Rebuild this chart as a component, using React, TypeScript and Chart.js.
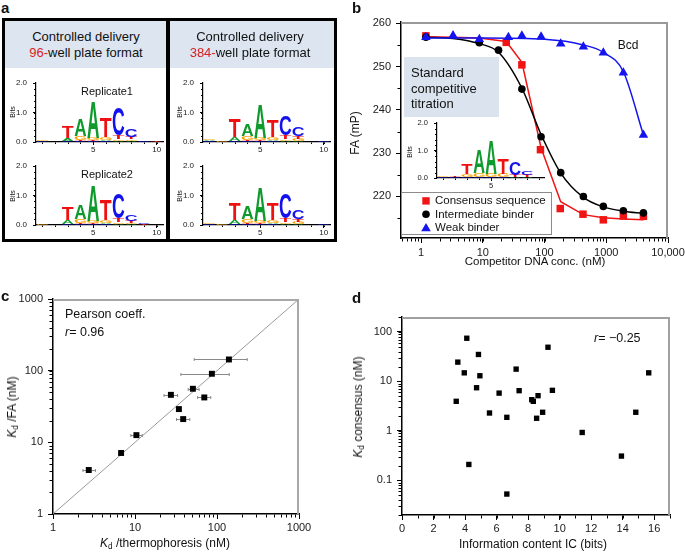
import React, { useEffect, useRef } from 'react';
import { Chart, registerables } from 'chart.js';
Chart.register(...registerables);

const FONT = '"Liberation Sans", Arial, Helvetica, sans-serif';
const TICK_COLOR = '#1a1a1a';
const RED = '#f01414';
const BLUE = '#1414f0';

// ---------------- Panel a : sequence logos (letter, bits) bottom -> top, positions 1..n
type Stack = [string, number][];
const logo96Rep1: Stack[] = [
  [['C', 0.02], ['G', 0.05]],
  [],
  [['C', 0.05], ['A', 0.1], ['T', 0.4]],
  [['C', 0.04], ['T', 0.04], ['G', 0.12], ['A', 0.55]],
  [['C', 0.03], ['T', 0.04], ['G', 0.08], ['A', 1.22]],
  [['C', 0.03], ['A', 0.05], ['G', 0.1], ['T', 0.66]],
  [['A', 0.04], ['G', 0.06], ['T', 0.12], ['C', 0.92]],
  [['A', 0.03], ['G', 0.06], ['T', 0.08], ['C', 0.25]],
  [['C', 0.03]],
  [['T', 0.02]],
];
const logo96Rep2: Stack[] = [
  [['G', 0.05]],
  [],
  [['C', 0.05], ['A', 0.12], ['T', 0.43]],
  [['C', 0.04], ['T', 0.04], ['G', 0.12], ['A', 0.5]],
  [['C', 0.03], ['T', 0.04], ['G', 0.08], ['A', 1.2]],
  [['C', 0.03], ['A', 0.05], ['G', 0.1], ['T', 0.7]],
  [['A', 0.04], ['G', 0.06], ['T', 0.12], ['C', 0.85]],
  [['A', 0.03], ['G', 0.04], ['T', 0.07], ['C', 0.2]],
  [['T', 0.02], ['C', 0.06]],
  [],
];
const logo384Rep1: Stack[] = [
  [['C', 0.03], ['A', 0.03], ['G', 0.06]],
  [['G', 0.02]],
  [['C', 0.04], ['A', 0.12], ['T', 0.6]],
  [['C', 0.04], ['T', 0.04], ['G', 0.12], ['A', 0.39]],
  [['C', 0.03], ['T', 0.04], ['G', 0.08], ['A', 1.13]],
  [['C', 0.03], ['A', 0.05], ['G', 0.1], ['T', 0.58]],
  [['A', 0.04], ['G', 0.06], ['T', 0.12], ['C', 0.68]],
  [['A', 0.03], ['G', 0.07], ['T', 0.1], ['C', 0.3]],
  [],
  [['C', 0.03]],
];
const logo384Rep2: Stack[] = [
  [['C', 0.02], ['G', 0.04]],
  [['G', 0.02]],
  [['C', 0.04], ['A', 0.12], ['T', 0.57]],
  [['C', 0.04], ['T', 0.04], ['G', 0.12], ['A', 0.42]],
  [['C', 0.03], ['T', 0.04], ['G', 0.08], ['A', 1.16]],
  [['C', 0.03], ['A', 0.05], ['G', 0.1], ['T', 0.57]],
  [['A', 0.04], ['G', 0.06], ['T', 0.12], ['C', 0.85]],
  [['A', 0.03], ['G', 0.07], ['T', 0.1], ['C', 0.33]],
  [],
  [['C', 0.02]],
];
const logoInset: Stack[] = [
  [['C', 0.02], ['G', 0.02]],
  [['C', 0.02], ['T', 0.03]],
  [['C', 0.03], ['G', 0.1], ['T', 0.36]],
  [['C', 0.03], ['G', 0.16], ['A', 0.85]],
  [['C', 0.03], ['G', 0.12], ['A', 1.22]],
  [['C', 0.03], ['G', 0.12], ['T', 0.58]],
  [['A', 0.03], ['T', 0.08], ['C', 0.48]],
  [['A', 0.02], ['T', 0.07], ['C', 0.14]],
  [],
];
const logoXTicks = [5, 10];
const logoInsetXTicks = [5];
const logoYTicks = [0, 1, 2];
const LETTER_COLORS: Record<string, string> = { A: '#0e9a2c', C: '#1212ee', G: '#f5a300', T: '#ee1111' };

// ---------------- Panel b : competitive titration
const bXTicks = [1, 10, 100, 1000, 10000];
const bXLabels = ['1', '10', '100', '1000', '10,000'];
const bYTicks = [220, 230, 240, 250, 260];

const consensusConc = [1.2, 24, 43, 86, 180, 420, 897, 1892, 4000];
const consensusFA = [257.1, 255.6, 250.4, 230.8, 217.2, 215.9, 214.6, 215.5, 215.4];
const consensusFitConc = [1.2, 3.3, 8.8, 24, 43, 88, 183, 426, 897, 1892, 4000];
const consensusFitFA = [256.9, 256.8, 256.6, 255.8, 251.0, 231.2, 218.8, 215.8, 215.1, 214.8, 214.6];

const intermediateConc = [1.2, 8.8, 18, 43, 88, 183, 426, 897, 1892, 4000];
const intermediateFA = [256.8, 255.5, 253.8, 244.8, 233.8, 225.5, 220.0, 217.7, 216.7, 216.2];
const intermediateFitConc = [1.2, 3.3, 8.8, 18, 43, 88, 183, 426, 897, 1892, 4000];
const intermediateFitFA = [256.8, 256.5, 255.3, 253.3, 245.0, 234.3, 225.4, 219.8, 217.6, 216.6, 216.1];

const weakConc = [1.2, 3.3, 8.8, 26, 43, 88, 183, 426, 897, 1892, 4000];
const weakFA = [256.8, 257.2, 256.3, 256.8, 257.1, 256.9, 255.3, 254.6, 253.2, 248.6, 234.2];
const weakFitConc = [1.2, 10, 100, 426, 897, 1892, 4000];
const weakFitFA = [256.6, 256.6, 256.3, 255.0, 253.3, 248.8, 234.2];

// ---------------- Panel c : Kd FA vs thermophoresis
const cTicks = [1, 10, 100, 1000];
const thermoKd = [2.73, 6.77, 10.4, 27.4, 34.3, 38.7, 50.8, 70, 86.6, 139.7];
const faKd = [4.11, 7.1, 12.6, 46, 29.1, 21.1, 55.9, 42.3, 90.5, 143.3];
const thermoLo = [2.32, 6.4, 8.9, 22.6, 34.3, 32.1, 44.5, 58, 36.3, 52.7];
const thermoHi = [3.29, 7.2, 12.3, 33.0, 34.3, 46.6, 60.6, 84, 141, 233.7];

// ---------------- Panel d : Kd consensus vs information content
const dXTicks = [0, 2, 4, 6, 8, 10, 12, 14, 16];
const dYTicks = [0.1, 1, 10, 100];
const icBits = [3.44, 3.54, 3.95, 4.11, 4.24, 4.73, 4.85, 4.94, 5.55, 6.16, 6.65, 6.65, 7.24, 7.43, 8.23, 8.33, 8.54, 8.63, 8.92, 9.26, 9.54, 11.43, 13.92, 14.83, 15.65];
const kdConsensus = [3.96, 24.5, 14.9, 74.5, 0.21, 7.45, 35, 13, 2.3, 5.8, 1.88, 0.053, 17.7, 6.5, 4.27, 3.96, 1.8, 5.15, 2.38, 49, 6.6, 0.93, 0.31, 2.38, 14.9];

// ---------------- helpers
type Box = { x: number; y: number; w: number; h: number };
type Area = { l: number; t: number; r: number; b: number };

function logMinor(lo: number, hi: number): number[] {
  const out: number[] = [];
  for (let e = Math.floor(Math.log10(lo)); e <= Math.ceil(Math.log10(hi)); e++) {
    for (let m = 1; m <= 9; m++) {
      const v = m * Math.pow(10, e);
      if (v >= lo * 0.999 && v <= hi * 1.001) out.push(v);
    }
  }
  return out;
}
function linMinor(lo: number, hi: number, step: number): number[] {
  const out: number[] = [];
  const n = Math.round((hi - lo) / step);
  for (let i = 0; i <= n; i++) out.push(+(lo + i * step).toFixed(6));
  return out;
}

function axisOpts(type: string, min: number, max: number, ticks: number[], labels: string[], fit: (s: any) => void, padding: number, size: number, tickLength: number, borderWidth = 1.5) {
  return {
    type, min, max,
    grid: { display: true, drawOnChartArea: false, drawTicks: true, tickLength, color: '#000', lineWidth: 1 },
    border: { display: true, color: '#000', width: borderWidth },
    afterBuildTicks: (s: any) => { s.ticks = ticks.map((v) => ({ value: v })); },
    afterFit: fit,
    ticks: {
      autoSkip: false, maxRotation: 0, minRotation: 0, padding,
      color: TICK_COLOR, font: { family: FONT, size },
      callback: (_v: any, i: number) => labels[i],
    },
  };
}
const fixX = (h: number) => (s: any) => { s.height = h; s.paddingLeft = 0; s.paddingRight = 0; };
const fixY = (w: number) => (s: any) => { s.width = w; s.paddingTop = 0; s.paddingBottom = 0; };
const layoutFor = (box: Box, area: Area) => ({ padding: { left: 0, bottom: 0, top: area.t - box.y, right: box.x + box.w - area.r } });

type FrameCfg = { xMinor: number[]; yMinor: number[]; minorLen: number; frame?: string; frameWidth?: number };
function framePlugin(cfg: FrameCfg) {
  return {
    id: 'frameExtras',
    afterDraw(chart: any) {
      const { ctx, chartArea: a, scales } = chart;
      const xs = scales.x, ys = scales.y;
      const L = Math.round(a.left) - 0.5, B = Math.round(a.bottom) + 0.5;
      ctx.save();
      ctx.setLineDash([]);
      if (cfg.frame) {
        const fw = cfg.frameWidth || 1;
        const T = a.top + fw / 2, R = a.right - fw / 2;
        ctx.strokeStyle = cfg.frame; ctx.lineWidth = fw;
        ctx.beginPath(); ctx.moveTo(a.left, T); ctx.lineTo(R, T); ctx.lineTo(R, a.bottom); ctx.stroke();
      }
      ctx.strokeStyle = '#000'; ctx.lineWidth = 1;
      ctx.beginPath();
      cfg.xMinor.forEach((v) => { const p = Math.round(xs.getPixelForValue(v)) + 0.5; ctx.moveTo(p, B); ctx.lineTo(p, B + cfg.minorLen); });
      cfg.yMinor.forEach((v) => { const p = Math.round(ys.getPixelForValue(v)) + 0.5; ctx.moveTo(L, p); ctx.lineTo(L - cfg.minorLen, p); });
      ctx.stroke();
      ctx.restore();
    },
  };
}

function drawLetter(ctx: CanvasRenderingContext2D, ch: string, x: number, y: number, w: number, h: number, color: string) {
  if (h <= 0 || w <= 0) return;
  ctx.save();
  ctx.font = `bold 100px ${FONT}`;
  ctx.textAlign = 'left';
  ctx.textBaseline = 'alphabetic';
  const m = ctx.measureText(ch);
  const bw = m.actualBoundingBoxLeft + m.actualBoundingBoxRight;
  const bh = m.actualBoundingBoxAscent + m.actualBoundingBoxDescent;
  ctx.translate(x, y);
  ctx.scale(w / bw, h / bh);
  ctx.fillStyle = color;
  ctx.fillText(ch, m.actualBoundingBoxLeft, m.actualBoundingBoxAscent);
  ctx.restore();
}

function logoPlugin(stacks: Stack[]) {
  return {
    id: 'logoLetters',
    afterDatasetsDraw(chart: any) {
      const { ctx, scales } = chart;
      const xs = scales.x, ys = scales.y;
      stacks.forEach((stack, i) => {
        const pos = i + 1;
        const x0 = xs.getPixelForValue(pos - 0.46);
        const x1 = xs.getPixelForValue(pos + 0.46);
        let base = 0;
        stack.forEach(([letter, bits]) => {
          const yb = ys.getPixelForValue(base);
          const yt = ys.getPixelForValue(base + bits);
          drawLetter(ctx, letter, x0, yt, x1 - x0, yb - yt, LETTER_COLORS[letter]);
          base += bits;
        });
      });
    },
  };
}

function logoConfig(stacks: Stack[], box: Box, area: Area, xMax: number, xTicks: number[], tickSize: number) {
  return {
    type: 'scatter',
    data: { datasets: [] },
    options: {
      responsive: false, animation: false,
      layout: layoutFor(box, area),
      plugins: { legend: { display: false }, tooltip: { enabled: false } },
      scales: {
        x: axisOpts('linear', 0.5, xMax, xTicks, xTicks.map(String), fixX(box.y + box.h - area.b), 0, tickSize, 3, 1.2),
        y: axisOpts('linear', 0, 2, logoYTicks, logoYTicks.map((v) => v.toFixed(1)), fixY(area.l - box.x), 6, tickSize, 3, 1.2),
      },
    },
    plugins: [
      framePlugin({ xMinor: linMinor(1, Math.floor(xMax), 1), yMinor: linMinor(0, 2, 0.2), minorLen: 1.5 }),
      logoPlugin(stacks),
    ],
  };
}

const pts = (xs: number[], ys: number[]) => xs.map((x, i) => ({ x, y: ys[i] }));

// ---------------- boxes / areas
const boxTL: Box = { x: 8, y: 76, w: 160, h: 78 }; const areaTL: Area = { l: 36, t: 83, r: 163, b: 142 };
const boxBL: Box = { x: 8, y: 159, w: 160, h: 78 }; const areaBL: Area = { l: 36, t: 166, r: 163, b: 225 };
const boxTR: Box = { x: 174, y: 76, w: 160, h: 78 }; const areaTR: Area = { l: 203, t: 83, r: 330, b: 142 };
const boxBR: Box = { x: 174, y: 159, w: 160, h: 78 }; const areaBR: Area = { l: 203, t: 166, r: 330, b: 225 };
const boxIn: Box = { x: 400, y: 116, w: 150, h: 76 }; const areaIn: Area = { l: 437, t: 123, r: 544, b: 178 };
const boxB: Box = { x: 340, y: 0, w: 345, h: 280 }; const areaB: Area = { l: 401, t: 22, r: 668, b: 238 };
const boxC: Box = { x: 0, y: 280, w: 340, h: 272 }; const areaC: Area = { l: 53, t: 299, r: 299, b: 514 };
const boxD: Box = { x: 340, y: 280, w: 345, h: 272 }; const areaD: Area = { l: 402, t: 317, r: 670, b: 515 };

function configB() {
  return {
    type: 'scatter',
    data: {
      datasets: [
        { label: 'Weak binder', data: pts(weakConc, weakFA), pointStyle: 'triangle', pointRadius: 5.5, backgroundColor: BLUE, borderWidth: 0, clip: false },
        { label: 'Intermediate binder', data: pts(intermediateConc, intermediateFA), pointStyle: 'circle', pointRadius: 3.8, backgroundColor: '#000', borderWidth: 0, clip: false },
        { label: 'Consensus sequence', data: pts(consensusConc, consensusFA), pointStyle: 'rect', pointRadius: 5.3, backgroundColor: RED, borderWidth: 0, clip: false },
        { label: 'weak fit', data: pts(weakFitConc, weakFitFA), showLine: true, borderColor: BLUE, borderWidth: 1.5, pointRadius: 0, cubicInterpolationMode: 'monotone', clip: false },
        { label: 'intermediate fit', data: pts(intermediateFitConc, intermediateFitFA), showLine: true, borderColor: '#000', borderWidth: 1.5, pointRadius: 0, cubicInterpolationMode: 'monotone', clip: false },
        { label: 'consensus fit', data: pts(consensusFitConc, consensusFitFA), showLine: true, borderColor: RED, borderWidth: 1.5, pointRadius: 0, tension: 0, clip: false },
      ],
    },
    options: {
      responsive: false, animation: false,
      layout: layoutFor(boxB, areaB),
      plugins: { legend: { display: false }, tooltip: { enabled: false } },
      scales: {
        x: axisOpts('logarithmic', 0.474, 10000, bXTicks, bXLabels, fixX(boxB.y + boxB.h - areaB.b), 3.5, 11, 5),
        y: axisOpts('linear', 210.4, 260.3, bYTicks, bYTicks.map(String), fixY(areaB.l - boxB.x), 5, 11, 5),
      },
    },
    plugins: [framePlugin({ xMinor: logMinor(0.5, 10000), yMinor: [215, 225, 235, 245, 255], minorLen: 3, frame: '#999999', frameWidth: 2 })],
  };
}

function configC() {
  const errPlugin = {
    id: 'errBars',
    beforeDatasetsDraw(chart: any) {
      const { ctx, scales } = chart;
      ctx.save();
      ctx.strokeStyle = '#8a8a8a'; ctx.lineWidth = 1;
      ctx.beginPath();
      thermoKd.forEach((_v, i) => {
        if (thermoLo[i] === thermoHi[i]) return;
        const py = Math.round(scales.y.getPixelForValue(faKd[i])) + 0.5;
        const a = scales.x.getPixelForValue(thermoLo[i]);
        const b = scales.x.getPixelForValue(thermoHi[i]);
        ctx.moveTo(a, py); ctx.lineTo(b, py);
        ctx.moveTo(a, py - 1.5); ctx.lineTo(a, py + 1.5);
        ctx.moveTo(b, py - 1.5); ctx.lineTo(b, py + 1.5);
      });
      ctx.stroke();
      ctx.restore();
    },
  };
  return {
    type: 'scatter',
    data: {
      datasets: [
        { label: 'Kd', data: pts(thermoKd, faKd), pointStyle: 'rect', pointRadius: 4.2, backgroundColor: '#000', borderWidth: 0, clip: false },
        { label: 'identity', data: pts([1, 1000], [1, 1000]), showLine: true, borderColor: '#9a9a9a', borderWidth: 1, pointRadius: 0 },
      ],
    },
    options: {
      responsive: false, animation: false,
      layout: layoutFor(boxC, areaC),
      plugins: { legend: { display: false }, tooltip: { enabled: false } },
      scales: {
        x: axisOpts('logarithmic', 1, 1000, cTicks, cTicks.map(String), fixX(boxC.y + boxC.h - areaC.b), 2, 11, 5),
        y: axisOpts('logarithmic', 1, 1000, cTicks, cTicks.map(String), fixY(areaC.l - boxC.x), 5, 11, 5),
      },
    },
    plugins: [
      framePlugin({ xMinor: logMinor(1, 1000), yMinor: logMinor(1, 1000), minorLen: 3, frame: '#a8a8a8', frameWidth: 2 }),
      errPlugin,
    ],
  };
}

function configD() {
  return {
    type: 'scatter',
    data: {
      datasets: [
        { label: 'Kd consensus', data: pts(icBits, kdConsensus), pointStyle: 'rect', pointRadius: 3.8, backgroundColor: '#000', borderWidth: 0, clip: false },
      ],
    },
    options: {
      responsive: false, animation: false,
      layout: layoutFor(boxD, areaD),
      plugins: { legend: { display: false }, tooltip: { enabled: false } },
      scales: {
        x: axisOpts('linear', 0, 17, dXTicks, dXTicks.map(String), fixX(boxD.y + boxD.h - areaD.b), 2, 11, 5),
        y: axisOpts('logarithmic', 0.02, 200, dYTicks, dYTicks.map(String), fixY(areaD.l - boxD.x), 5, 11, 5),
      },
    },
    plugins: [framePlugin({ xMinor: linMinor(0, 17, 1), yMinor: logMinor(0.02, 200), minorLen: 3, frame: '#a0a0a0', frameWidth: 2 })],
  };
}

function ChartCanvas({ box, make }: { box: Box; make: () => any }) {
  const ref = useRef<HTMLCanvasElement>(null);
  useEffect(() => {
    const c = new Chart(ref.current as HTMLCanvasElement, make());
    return () => c.destroy();
  }, []);
  return (
    <canvas ref={ref} width={box.w} height={box.h}
      style={{ position: 'absolute', left: box.x, top: box.y, width: box.w, height: box.h }} />
  );
}

function Txt({ x, y, size = 12, anchor = 'middle', rotate = false, bold = false, color, children, style }: any) {
  const tx = anchor === 'middle' ? '-50%' : anchor === 'end' ? '-100%' : '0';
  return (
    <div style={{
      position: 'absolute', left: x, top: y,
      transform: `translate(${tx}, -50%)${rotate ? ' rotate(-90deg)' : ''}`,
      fontSize: size, lineHeight: 1, whiteSpace: 'nowrap', fontWeight: bold ? 'bold' : 'normal',
      color: color || '#111', ...(style || {}),
    }}>{children}</div>
  );
}

const Kd = () => (<><i>K</i><sub style={{ fontSize: '0.68em', verticalAlign: '-0.3em', lineHeight: 0 }}>d</sub></>);

export default function App() {
  const headerBlue = '#dce5f0';
  const redText = '#d91e1e';
  return (
    <div style={{ position: 'absolute', left: 0, top: 0, width: 685, height: 552, background: '#fff', overflow: 'hidden', fontFamily: FONT }}>
      {/* panel a frames */}
      <div style={{ position: 'absolute', left: 2, top: 18, width: 167, height: 224, border: '3px solid #000', boxSizing: 'border-box' }}>
        <div style={{ background: headerBlue, height: 47 }} />
      </div>
      <div style={{ position: 'absolute', left: 167, top: 18, width: 170, height: 224, border: '3px solid #000', boxSizing: 'border-box' }}>
        <div style={{ background: headerBlue, height: 47 }} />
      </div>
      {/* panel b text box */}
      <div style={{ position: 'absolute', left: 404, top: 57, width: 95, height: 60, background: '#dbe4ee' }} />

      <ChartCanvas box={boxTL} make={() => logoConfig(logo96Rep1, boxTL, areaTL, 10.5, logoXTicks, 8)} />
      <ChartCanvas box={boxBL} make={() => logoConfig(logo96Rep2, boxBL, areaBL, 10.5, logoXTicks, 8)} />
      <ChartCanvas box={boxTR} make={() => logoConfig(logo384Rep1, boxTR, areaTR, 10.5, logoXTicks, 8)} />
      <ChartCanvas box={boxBR} make={() => logoConfig(logo384Rep2, boxBR, areaBR, 10.5, logoXTicks, 8)} />
      <ChartCanvas box={boxB} make={configB} />
      <ChartCanvas box={boxIn} make={() => logoConfig(logoInset, boxIn, areaIn, 9.4, logoInsetXTicks, 7.5)} />
      <ChartCanvas box={boxC} make={configC} />
      <ChartCanvas box={boxD} make={configD} />

      {/* panel labels */}
      <Txt x={1} y={7} size={15} bold anchor="start">a</Txt>
      <Txt x={352} y={7} size={15} bold anchor="start">b</Txt>
      <Txt x={1} y={295} size={15} bold anchor="start">c</Txt>
      <Txt x={352} y={297} size={15} bold anchor="start">d</Txt>

      {/* panel a texts */}
      <Txt x={86} y={36} size={13}>Controlled delivery</Txt>
      <Txt x={86} y={52} size={13}><span style={{ color: redText }}>96-</span>well plate format</Txt>
      <Txt x={250} y={36} size={13}>Controlled delivery</Txt>
      <Txt x={250} y={52} size={13}><span style={{ color: redText }}>384-</span>well plate format</Txt>
      <Txt x={107} y={91} size={11}>Replicate1</Txt>
      <Txt x={107} y={174} size={11}>Replicate2</Txt>
      <Txt x={12} y={112} size={7} rotate>Bits</Txt>
      <Txt x={12} y={196} size={7} rotate>Bits</Txt>
      <Txt x={179} y={112} size={7} rotate>Bits</Txt>
      <Txt x={179} y={196} size={7} rotate>Bits</Txt>
      <Txt x={409} y={152} size={7} rotate>Bits</Txt>

      {/* panel b texts */}
      <Txt x={411} y={72} size={13} anchor="start">Standard</Txt>
      <Txt x={411} y={88} size={13} anchor="start">competitive</Txt>
      <Txt x={411} y={103} size={13} anchor="start">titration</Txt>
      <Txt x={628} y={45} size={12}>Bcd</Txt>
      <Txt x={355} y={133} size={12} rotate>FA (mP)</Txt>
      <Txt x={535} y={262} size={11.5}>Competitor DNA conc. (nM)</Txt>
      <div style={{ position: 'absolute', left: 401, top: 192, width: 151, height: 43, border: '1px solid #8c8c8c', boxSizing: 'border-box', background: '#fff' }} />
      <svg width={12} height={40} style={{ position: 'absolute', left: 420, top: 194 }}>
        <rect x={2.3} y={3.2} width={7.4} height={7.4} fill={RED} />
        <circle cx={6} cy={20.3} r={3.8} fill="#000" />
        <polygon points="6,29 10.8,37.2 1.2,37.2" fill={BLUE} />
      </svg>
      <Txt x={435} y={201} size={11.5} anchor="start">Consensus sequence</Txt>
      <Txt x={435} y={214.5} size={11.5} anchor="start">Intermediate binder</Txt>
      <Txt x={435} y={228} size={11.5} anchor="start">Weak binder</Txt>

      {/* panel c texts */}
      <Txt x={65} y={314} size={12.5} anchor="start">Pearson coeff.</Txt>
      <Txt x={65} y={332} size={12.5} anchor="start"><i>r</i>= 0.96</Txt>
      <Txt x={12} y={407} size={12} rotate><Kd /> /FA (nM)</Txt>
      <Txt x={165} y={543} size={12}><Kd /> /thermophoresis (nM)</Txt>

      {/* panel d texts */}
      <Txt x={594} y={338} size={12.5} anchor="start"><i>r</i>= −0.25</Txt>
      <Txt x={358} y={407} size={12} rotate><Kd /> consensus (nM)</Txt>
      <Txt x={533} y={544} size={12}>Information content IC (bits)</Txt>
    </div>
  );
}
